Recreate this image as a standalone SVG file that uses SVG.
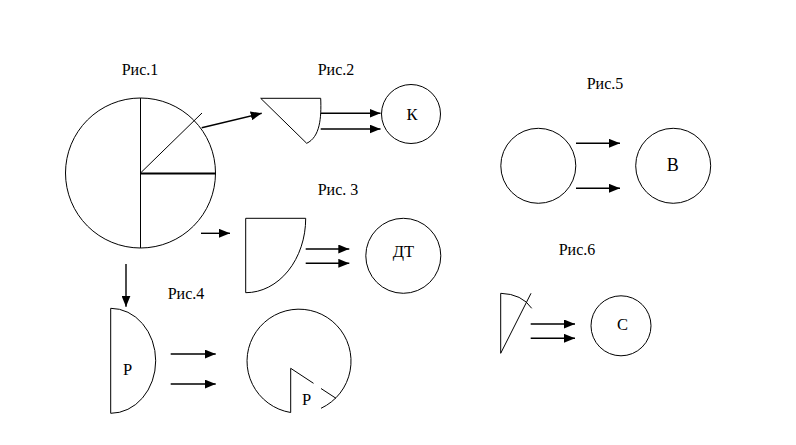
<svg xmlns="http://www.w3.org/2000/svg" width="796" height="445" viewBox="0 0 796 445">
<style>
.s{fill:none;stroke:#000;stroke-width:1}
.a{fill:none;stroke:#000;stroke-width:1.4}
text{fill:#000;text-anchor:middle}
.lb{font-family:"Liberation Serif","Times New Roman",serif;font-size:16px}
.nd{font-family:"Liberation Serif","Times New Roman",serif;font-size:16.5px}
</style>
<defs>
<marker id="ah" markerWidth="11" markerHeight="9" refX="11" refY="4.5" orient="auto" markerUnits="userSpaceOnUse">
<path d="M0,0 L11,4.5 L0,9 z" fill="#000"/>
</marker>
</defs>
<rect width="796" height="445" fill="#fff"/>

<g id="fig1">
<text class="lb" x="140" y="75">Рис.1</text>
<circle class="s" cx="140.5" cy="173" r="75"/>
<line class="s" x1="140.5" y1="98" x2="140.5" y2="248"/>
<line x1="140.5" y1="173.5" x2="216" y2="173.5" stroke="#000" stroke-width="2"/>
<line class="s" x1="140.5" y1="173" x2="202" y2="113"/>
</g>

<g id="fig2">
<text class="lb" x="336" y="75">Рис.2</text>
<path class="s" d="M260.7,98.3 L320.7,98.3 C321.5,118 320,137 306.7,143.3 Z"/>
</g>
<g id="nodeK">
<circle class="s" cx="411" cy="114" r="29.5"/>
<text class="nd" x="412" y="119.5">К</text>
</g>

<g id="fig3">
<text class="lb" x="338" y="195">Рис. 3</text>
<path class="s" d="M305.7,218.3 L245.7,218.3 L245.7,292.7 A60,74.4 0 0 0 305.7,218.3"/>
</g>
<g id="nodeDT">
<circle class="s" cx="403.3" cy="255.8" r="37.5"/>
<text class="nd" x="403.3" y="256.7">ДТ</text>
</g>

<g id="fig4">
<text class="lb" x="186" y="299">Рис.4</text>
<path class="s" d="M110.7,308.3 A45,52.5 0 0 1 110.7,413.3 Z"/>
<text class="nd" x="127.5" y="375">Р</text>
</g>
<g id="nodeP">
<path class="s" d="M290.7,412.5 A52,52 0 1 1 321,408.3"/>
<path class="s" d="M290.7,412.5 L290.7,368.3 L313.5,383.3 M321,388.5 L336,398.3"/>
<text class="nd" x="306.7" y="405">Р</text>
</g>

<g id="fig5">
<text class="lb" x="605" y="89">Рис.5</text>
<circle class="s" cx="538.3" cy="165.8" r="37.5"/>
</g>
<g id="nodeB">
<circle class="s" cx="673.2" cy="165.8" r="37.5"/>
<text class="nd" x="672.7" y="171" style="font-size:18px">В</text>
</g>

<g id="fig6">
<text class="lb" x="577" y="255">Рис.6</text>
<path class="s" d="M500.7,293.3 L500.7,353.3 L531,293.3 M500.7,293.3 Q522,294 531.7,308.3"/>
</g>
<g id="nodeC">
<circle class="s" cx="621" cy="325.8" r="30"/>
<text class="nd" x="622.5" y="330">С</text>
</g>

<g id="connectors">
<line class="a" x1="201.7" y1="127.7" x2="261.7" y2="113.3" marker-end="url(#ah)"/>
<line class="a" x1="320.7" y1="113.3" x2="380.5" y2="113.3" marker-end="url(#ah)"/>
<line class="a" x1="320.7" y1="129" x2="380.5" y2="129" marker-end="url(#ah)"/>
<line class="a" x1="201" y1="233.3" x2="230" y2="233.3" marker-end="url(#ah)"/>
<line class="a" x1="305.7" y1="249" x2="349.3" y2="249" marker-end="url(#ah)"/>
<line class="a" x1="305.7" y1="263.3" x2="349.3" y2="263.3" marker-end="url(#ah)"/>
<line class="a" x1="126" y1="264" x2="126" y2="306.7" marker-end="url(#ah)"/>
<line class="a" x1="170.7" y1="354" x2="215.7" y2="354" marker-end="url(#ah)"/>
<line class="a" x1="170.7" y1="384" x2="215.7" y2="384" marker-end="url(#ah)"/>
<line class="a" x1="576" y1="143.3" x2="620" y2="143.3" marker-end="url(#ah)"/>
<line class="a" x1="576" y1="188.3" x2="620" y2="188.3" marker-end="url(#ah)"/>
<line class="a" x1="530.7" y1="324" x2="575" y2="324" marker-end="url(#ah)"/>
<line class="a" x1="530.7" y1="338.3" x2="575" y2="338.3" marker-end="url(#ah)"/>
</g>
</svg>
